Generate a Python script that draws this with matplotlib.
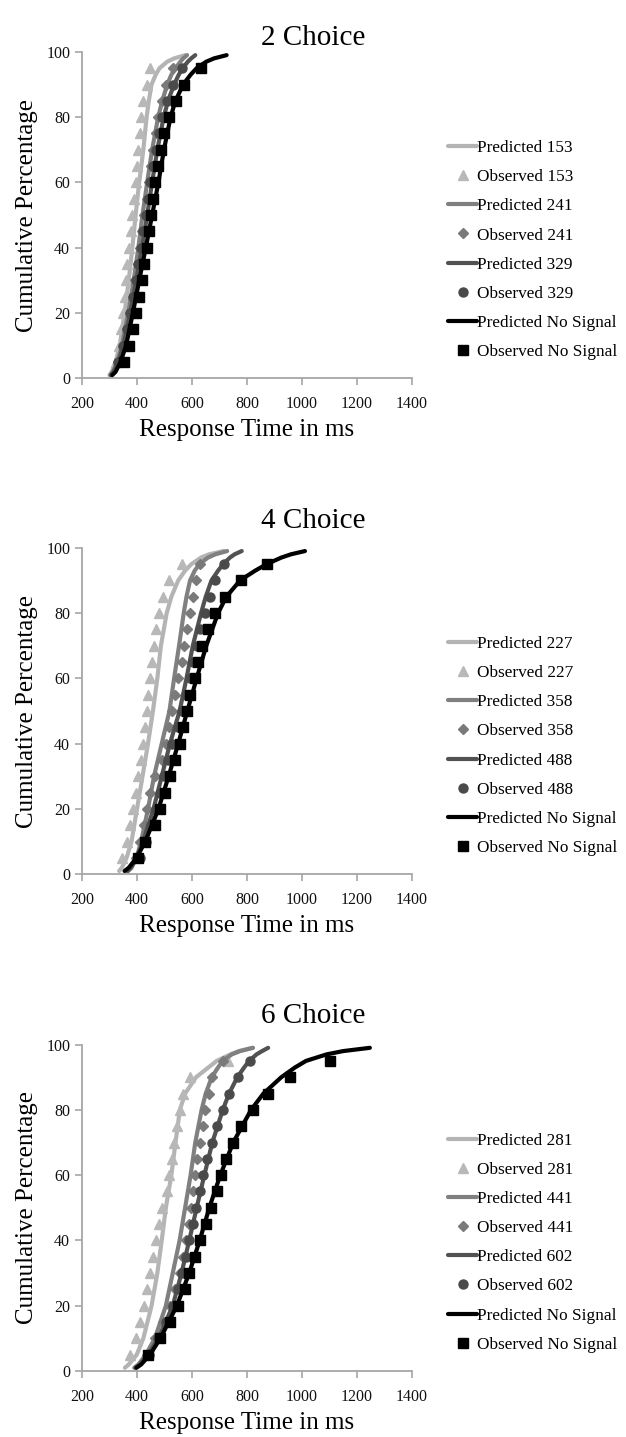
import matplotlib
matplotlib.use("Agg")
import matplotlib.pyplot as plt

plt.rcParams['font.family'] = ['Liberation Serif', 'DejaVu Serif']

# percentiles at which the curves / points are given
pred_pct = [1, 2, 5, 10, 20, 30, 40, 50, 60, 70, 80, 85, 90, 93, 95, 97, 98, 99]
obs_pct = [5, 10, 15, 20, 25, 30, 35, 40, 45, 50, 55, 60, 65, 70, 75, 80, 85, 90, 95]

# 2 choice
c2_pred_153 = [300, 308, 322, 337, 355, 370, 383, 395, 408, 423, 435, 443, 453, 468, 482, 510, 535, 575]
c2_obs_153 = [325, 335, 342, 348, 355, 360, 365, 371, 377, 383, 390, 396, 401, 405, 411, 415, 423, 435, 447]
c2_pred_241 = [303, 312, 328, 345, 368, 388, 405, 420, 437, 455, 477, 492, 510, 525, 540, 558, 568, 582]
c2_obs_241 = [332, 350, 363, 375, 385, 394, 403, 412, 420, 427, 435, 443, 451, 460, 468, 478, 490, 505, 530]
c2_pred_329 = [305, 315, 332, 350, 375, 397, 418, 437, 455, 474, 497, 513, 535, 552, 566, 585, 597, 612]
c2_obs_329 = [331, 350, 364, 375, 386, 396, 404, 414, 423, 433, 440, 447, 459, 469, 481, 491, 510, 530, 564]
c2_pred_ns = [310, 322, 340, 360, 385, 408, 432, 455, 478, 498, 522, 540, 568, 595, 617, 652, 680, 726]
c2_obs_ns = [353, 372, 387, 396, 406, 418, 426, 436, 443, 450, 459, 467, 477, 488, 499, 518, 542, 572, 634]

# 4 choice
c4_pred_227 = [335, 345, 362, 380, 400, 420, 440, 458, 474, 487, 508, 525, 550, 575, 598, 633, 662, 715]
c4_obs_227 = [344, 362, 375, 387, 396, 405, 413, 423, 429, 435, 441, 447, 453, 462, 469, 481, 496, 518, 562]
c4_pred_358 = [368, 380, 398, 415, 440, 462, 490, 518, 535, 553, 570, 580, 593, 610, 627, 658, 685, 728]
c4_obs_358 = [395, 410, 425, 437, 449, 465, 490, 505, 517, 527, 540, 550, 562, 572, 581, 592, 604, 616, 630]
c4_pred_488 = [365, 378, 398, 422, 460, 490, 520, 555, 580, 603, 633, 650, 671, 695, 714, 738, 755, 781]
c4_obs_488 = [410, 432, 452, 468, 482, 497, 512, 527, 548, 565, 578, 593, 605, 617, 629, 647, 665, 684, 716]
c4_pred_ns = [355, 370, 398, 430, 478, 515, 550, 583, 617, 652, 695, 725, 775, 830, 872, 925, 960, 1011]
c4_obs_ns = [405, 429, 465, 484, 502, 520, 538, 556, 568, 581, 593, 611, 623, 635, 659, 684, 720, 777, 872]

# 6 choice
c6_pred_281 = [356, 370, 399, 423, 453, 474, 490, 505, 525, 540, 556, 575, 615, 660, 690, 740, 770, 820]
c6_obs_281 = [375, 396, 411, 425, 435, 447, 459, 469, 481, 490, 508, 518, 526, 535, 544, 556, 568, 593, 730]
c6_pred_441 = [390, 405, 432, 465, 505, 530, 555, 575, 595, 612, 635, 650, 672, 695, 712, 745, 775, 822]
c6_obs_441 = [435, 465, 495, 520, 540, 555, 568, 578, 588, 596, 605, 611, 619, 629, 639, 647, 663, 674, 714]
c6_pred_602 = [395, 410, 440, 478, 530, 562, 590, 617, 645, 674, 712, 735, 765, 790, 808, 835, 855, 877]
c6_obs_602 = [445, 478, 505, 530, 548, 563, 578, 590, 603, 615, 628, 641, 656, 672, 690, 714, 734, 768, 811]
c6_pred_ns = [398, 415, 447, 485, 545, 590, 628, 663, 703, 750, 815, 860, 925, 975, 1015, 1090, 1150, 1247]
c6_obs_ns = [441, 484, 520, 550, 574, 590, 611, 629, 650, 670, 690, 705, 725, 750, 778, 821, 877, 956, 1102]

panels = [
    ("2 Choice", ["153", "241", "329"],
     [(c2_pred_153, c2_obs_153), (c2_pred_241, c2_obs_241), (c2_pred_329, c2_obs_329), (c2_pred_ns, c2_obs_ns)]),
    ("4 Choice", ["227", "358", "488"],
     [(c4_pred_227, c4_obs_227), (c4_pred_358, c4_obs_358), (c4_pred_488, c4_obs_488), (c4_pred_ns, c4_obs_ns)]),
    ("6 Choice", ["281", "441", "602"],
     [(c6_pred_281, c6_obs_281), (c6_pred_441, c6_obs_441), (c6_pred_602, c6_obs_602), (c6_pred_ns, c6_obs_ns)]),
]

line_colors = ['#b4b4b4', '#808080', '#525252', '#000000']
mark_colors = ['#b8b8b8', '#7a7a7a', '#4a4a4a', '#000000']
markers = ['^', 'D', 'o', 's']
msizes = [6.5, 5.3, 6.5, 6.5]
axis_grey = '#a6a6a6'

fig = plt.figure(figsize=(6.26, 14.37), dpi=100)
bottoms = [0.7367, 0.3916, 0.0459]
title_y = [0.9736, 0.6375, 0.2931]
h = 0.2272

for (title, delays, series), b, ty in zip(panels, bottoms, title_y):
    ax = fig.add_axes([0.131, b, 0.527, h])
    names = delays + ["No Signal"]
    for i, (pred, obs) in enumerate(series):
        ax.plot(pred, pred_pct, color=line_colors[i], lw=3, solid_capstyle='round',
                label="Predicted " + names[i], zorder=2 + 2 * i)
        ax.plot(obs, obs_pct, ls='none', marker=markers[i], ms=msizes[i],
                color=mark_colors[i], label="Observed " + names[i], zorder=3 + 2 * i)
    ax.set_xlim(200, 1400)
    ax.set_ylim(0, 100)
    ax.set_xticks(range(200, 1401, 200))
    ax.set_yticks(range(0, 101, 20))
    for s in ['top', 'right']:
        ax.spines[s].set_visible(False)
    for s in ['left', 'bottom']:
        ax.spines[s].set_color(axis_grey)
        ax.spines[s].set_linewidth(1.3)
    ax.tick_params(axis='both', colors=axis_grey, labelcolor='#111111',
                   labelsize=11.5, length=5, width=1.2, direction='out')
    ax.tick_params(axis='x', pad=8)
    fig.text(0.5, ty, title, fontsize=21, ha='center', va='center')
    ax.set_xlabel("Response Time in ms", fontsize=18, labelpad=5)
    ax.set_ylabel("Cumulative Percentage", fontsize=18, labelpad=6)
    ax.legend(loc='center left', bbox_to_anchor=(1.09, 0.393), frameon=False,
              fontsize=12.4, handlelength=1.63, handletextpad=0.05,
              labelspacing=0.76, borderaxespad=0)

fig.savefig("out.png", dpi=100)
